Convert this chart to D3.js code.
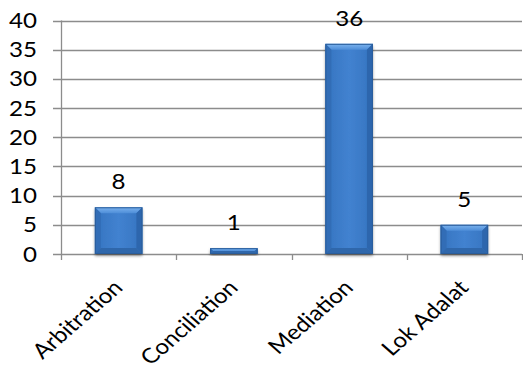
<!DOCTYPE html>
<html>
<head>
<meta charset="utf-8">
<script src="https://cdn.jsdelivr.net/npm/d3@7"></script>
<style>
  html, body { margin: 0; padding: 0; background: #fff; }
  svg { display: block; font-family: Lato, "Open Sans", sans-serif; }
</style>
</head>
<body>
<svg id="chart" width="523" height="378"></svg>
<script>
// Dispute resolution cases by mechanism
const categories = ["Arbitration", "Conciliation", "Mediation", "Lok Adalat"];
const values = [8, 1, 36, 5];
const yTicks = [0, 5, 10, 15, 20, 25, 30, 35, 40];

const svg = d3.select("#chart");
const plotLeft = 61, plotRight = 522, plotTop = 20.5, plotBottom = 254;
const fontSize = 21;
const stretch = 1.15; // glyphs are drawn slightly wide

const x = d3.scaleBand().domain(categories).range([plotLeft, plotRight]).paddingInner(0).paddingOuter(0);
const y = d3.scaleLinear().domain([0, 40]).range([plotBottom, plotTop]);

const defs = svg.append("defs");
const face = defs.append("linearGradient").attr("id", "face").attr("x1", 0).attr("x2", 1).attr("y1", 0).attr("y2", 0);
face.append("stop").attr("offset", "0%").attr("stop-color", "#3574c0");
face.append("stop").attr("offset", "50%").attr("stop-color", "#4282d0");
face.append("stop").attr("offset", "100%").attr("stop-color", "#3574c0");
const topG = defs.append("linearGradient").attr("id", "topBevel").attr("x1", 0).attr("x2", 0).attr("y1", 0).attr("y2", 1);
topG.append("stop").attr("offset", "0%").attr("stop-color", "#7cb3ee");
topG.append("stop").attr("offset", "100%").attr("stop-color", "#4d8dd8");
const shadow = defs.append("filter").attr("id", "shadow").attr("x", "-20%").attr("y", "-20%").attr("width", "140%").attr("height", "140%");
shadow.append("feGaussianBlur").attr("in", "SourceAlpha").attr("stdDeviation", 1.5);
shadow.append("feOffset").attr("dx", 0).attr("dy", 1.5).attr("result", "b");
shadow.append("feComponentTransfer").append("feFuncA").attr("type", "linear").attr("slope", 0.4);
const merge = shadow.append("feMerge");
merge.append("feMergeNode");
merge.append("feMergeNode").attr("in", "SourceGraphic");

// Gridlines
svg.append("g").selectAll("line").data(yTicks).join("line")
  .attr("x1", plotLeft - 8).attr("x2", plotRight)
  .attr("y1", d => Math.round(y(d)) + 0.5).attr("y2", d => Math.round(y(d)) + 0.5)
  .attr("stroke", "#8c8c8c").attr("stroke-width", 1.3);

// Y axis line
svg.append("line").attr("x1", plotLeft + 0.5).attr("x2", plotLeft + 0.5).attr("y1", plotTop).attr("y2", plotBottom + 6)
  .attr("stroke", "#8c8c8c").attr("stroke-width", 1.3);

// Category tick marks
const bounds = categories.map(c => x(c)).concat([x(categories[categories.length - 1]) + x.bandwidth()]);
svg.append("g").selectAll("line").data(bounds.slice(1)).join("line")
  .attr("x1", d => Math.round(d) + 0.5).attr("x2", d => Math.round(d) + 0.5)
  .attr("y1", plotBottom).attr("y2", plotBottom + 6)
  .attr("stroke", "#8c8c8c").attr("stroke-width", 1.3);

// Y tick labels
svg.append("g").selectAll("text").data(yTicks).join("text")
  .attr("transform", d => `translate(37,${y(d) + 7.5}) scale(${stretch},1)`)
  .attr("text-anchor", "end").attr("font-size", fontSize).attr("fill", "#000")
  .text(d => d);

// Bars with bevelled edges
const barW = 47.5;
const bars = svg.append("g").selectAll("g").data(categories.map((c, i) => ({ c, v: values[i] }))).join("g");
bars.each(function (d) {
  const g = d3.select(this);
  const x0 = x(d.c) + x.bandwidth() / 2 - barW / 2, x1 = x0 + barW;
  const y0 = y(d.v), y1 = y(0);
  const b = Math.min(6, (y1 - y0) / 2, barW / 2);
  g.append("rect").attr("x", x0).attr("y", y0).attr("width", barW).attr("height", y1 - y0)
    .attr("fill", "url(#face)").attr("filter", "url(#shadow)");
  const poly = (pts, fill) => g.append("polygon").attr("points", pts.map(p => p.join(",")).join(" ")).attr("fill", fill);
  poly([[x0, y0], [x1, y0], [x1 - b, y0 + b], [x0 + b, y0 + b]], "url(#topBevel)");
  poly([[x0, y0], [x0 + b, y0 + b], [x0 + b, y1 - b], [x0, y1]], "#326db6");
  poly([[x1, y0], [x1 - b, y0 + b], [x1 - b, y1 - b], [x1, y1]], "#2d66ad");
  poly([[x0, y1], [x0 + b, y1 - b], [x1 - b, y1 - b], [x1, y1]], "#2f67ab");
  g.append("rect").attr("x", x0 + 0.5).attr("y", y0 + 0.5).attr("width", barW - 1).attr("height", y1 - y0 - 1)
    .attr("fill", "none").attr("stroke", "#2a5d9b").attr("stroke-width", 1);
  // value label
  g.append("text")
    .attr("transform", `translate(${x(d.c) + x.bandwidth() / 2},${y0 - 18}) scale(${stretch},1)`)
    .attr("text-anchor", "middle").attr("font-size", fontSize).attr("fill", "#000").text(d.v);
});

// Rotated category labels
svg.append("g").selectAll("text").data(categories).join("text")
  .attr("transform", d => `translate(${x(d) + x.bandwidth() / 2 + 5.5},${plotBottom + 35}) scale(${stretch},1) rotate(-45)`)
  .attr("text-anchor", "end").attr("font-size", fontSize).attr("fill", "#000")
  .text(d => d);
</script>
</body>
</html>
